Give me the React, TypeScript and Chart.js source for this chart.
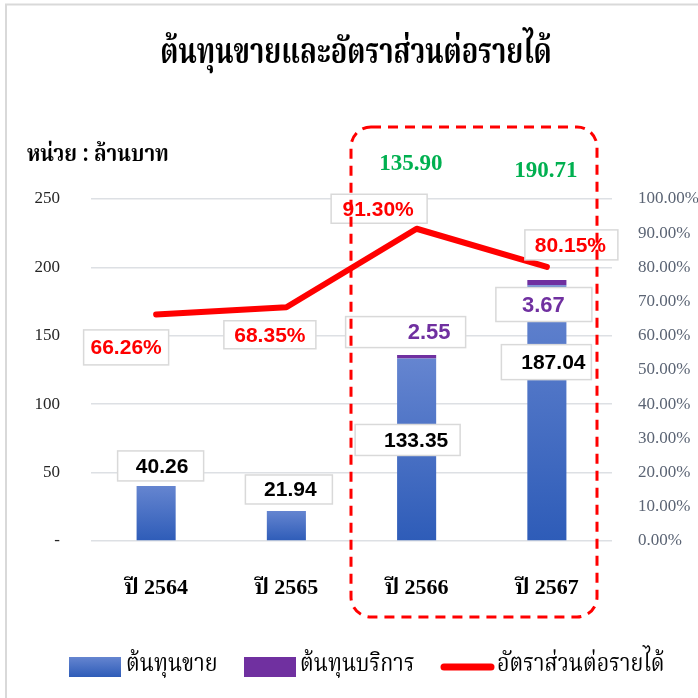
import React, { useEffect, useRef } from "react";
import { Chart, registerables } from "chart.js";

Chart.register(...registerables);

// ---- data ----
const categories = ["ปี 2564", "ปี 2565", "ปี 2566", "ปี 2567"];
const costOfSales = [40.26, 21.94, 133.35, 187.04];
const costOfServices = [0, 0, 2.55, 3.67];
const ratioToRevenue = [66.26, 68.35, 91.3, 80.15];
const totals = [null, null, 135.9, 190.71];
const seriesNames = ["ต้นทุนขาย", "ต้นทุนบริการ", "อัตราส่วนต่อรายได้"];
const titleText = "ต้นทุนขายและอัตราส่วนต่อรายได้";
const unitText = "หน่วย : ล้านบาท";

// ---- label placement (offsets from anchors, px) ----
const salesLabelPos = [
  { dx: 4.5, dy: -20, w: 86, h: 30, tdx: 6 },
  { dx: 2.5, dy: -21.5, w: 87, h: 29, tdx: 4 },
  { dx: -9, dy: 81.4, w: 105, h: 31, tdx: -0.5 },
  { dx: -0.5, dy: 77, w: 90, h: 35, tdx: 6.5 },
];
const serviceLabelPos = [
  null,
  null,
  { dx: -11, dy: -23, w: 120, h: 31, tdx: 12.5 },
  { dx: -3, dy: 24.4, w: 96, h: 34, tdx: -3.5 },
];
const ratioLabelPos = [
  { dx: -30, dy: 33, w: 85, h: 35, tdx: 0 },
  { dx: -16.5, dy: 27.5, w: 92, h: 28, tdx: 0 },
  { dx: -37.5, dy: -20, w: 96, h: 29, tdx: -1 },
  { dx: 24.5, dy: -22, w: 93, h: 30, tdx: -1 },
];
const totalLabelPos = [null, null, { dx: -5.7, dy: -34.5 }, { dx: -1, dy: -28.3 }];

const THAI = "'Noto Serif Thai', Norasi, 'Noto Sans Thai', 'TH Sarabun New', Loma, Garuda, 'Liberation Serif', serif";
const LABEL_FONT = "'Liberation Sans', Arial, sans-serif";

function drawBox(ctx: CanvasRenderingContext2D, cx: number, cy: number, w: number, h: number) {
  ctx.save();
  ctx.fillStyle = "#ffffff";
  ctx.strokeStyle = "#d9d9d9";
  ctx.lineWidth = 1.5;
  ctx.fillRect(cx - w / 2, cy - h / 2, w, h);
  ctx.strokeRect(cx - w / 2, cy - h / 2, w, h);
  ctx.restore();
}

function condensedText(
  ctx: CanvasRenderingContext2D,
  text: string,
  x: number,
  y: number,
  sx: number,
  align: CanvasTextAlign
) {
  ctx.save();
  ctx.translate(x, y);
  ctx.scale(sx, 1);
  ctx.textAlign = align;
  ctx.fillText(text, 0, 0);
  ctx.restore();
}

const decorPlugin = {
  id: "decor",
  beforeDraw(chart: any) {
    const ctx: CanvasRenderingContext2D = chart.ctx;
    ctx.save();
    ctx.fillStyle = "#ffffff";
    ctx.fillRect(0, 0, chart.width, chart.height);
    // outer frame
    ctx.strokeStyle = "#d9d9d9";
    ctx.lineWidth = 2;
    ctx.beginPath();
    ctx.moveTo(6, chart.height + 2);
    ctx.lineTo(6, 4.5);
    ctx.lineTo(chart.width + 2, 4.5);
    ctx.stroke();
    // title
    ctx.fillStyle = "#000000";
    ctx.textBaseline = "middle";
    ctx.font = `bold 35px ${THAI}`;
    condensedText(ctx, titleText, 356, 57, 0.78, "center");
    // unit
    ctx.font = `bold 23px ${THAI}`;
    condensedText(ctx, unitText, 27, 157, 0.89, "left");
    ctx.restore();
  },
  afterDatasetsDraw(chart: any) {
    const ctx: CanvasRenderingContext2D = chart.ctx;
    const salesMeta = chart.getDatasetMeta(0);
    const servMeta = chart.getDatasetMeta(1);
    const lineMeta = chart.getDatasetMeta(2);
    const yScale = chart.scales.y;
    ctx.save();
    ctx.textAlign = "center";
    ctx.textBaseline = "middle";

    // sales labels
    costOfSales.forEach((v, i) => {
      const p = salesLabelPos[i];
      const el = salesMeta.data[i];
      const ax = el.x;
      const ay = yScale.getPixelForValue(v);
      const cx = ax + p.dx;
      const cy = ay + p.dy;
      drawBox(ctx, cx, cy, p.w, p.h);
      ctx.fillStyle = "#000000";
      ctx.font = i === 3 ? `bold 21px 'Liberation Sans Narrow', ${LABEL_FONT}` : `bold 21px ${LABEL_FONT}`;
      ctx.fillText(v.toFixed(2), ax + p.tdx, cy + 1);
    });

    // service labels
    costOfServices.forEach((v, i) => {
      const p = serviceLabelPos[i];
      if (!p) return;
      const el = servMeta.data[i];
      const ax = el.x;
      const ay = yScale.getPixelForValue(costOfSales[i] + v);
      const cx = ax + p.dx;
      const cy = ay + p.dy;
      drawBox(ctx, cx, cy, p.w, p.h);
      ctx.fillStyle = "#7030A0";
      ctx.font = `bold 22px ${LABEL_FONT}`;
      ctx.fillText(v.toFixed(2), ax + p.tdx, cy + 1);
    });

    // ratio labels
    ratioToRevenue.forEach((v, i) => {
      const p = ratioLabelPos[i];
      const el = lineMeta.data[i];
      const cx = el.x + p.dx;
      const cy = el.y + p.dy;
      drawBox(ctx, cx, cy, p.w, p.h);
      ctx.fillStyle = "#FF0000";
      ctx.font = `bold 21px ${LABEL_FONT}`;
      ctx.fillText(v.toFixed(2) + "%", cx + p.tdx, cy + 1);
    });

    // totals
    totals.forEach((v, i) => {
      const p = totalLabelPos[i];
      if (v == null || !p) return;
      const el = salesMeta.data[i];
      ctx.fillStyle = "#00B050";
      ctx.font = "bold 23px 'Liberation Serif', 'Times New Roman', serif";
      ctx.fillText(v.toFixed(2), el.x + p.dx, chart.chartArea.top + p.dy);
    });
    ctx.restore();
  },
  afterDraw(chart: any) {
    const ctx: CanvasRenderingContext2D = chart.ctx;
    ctx.save();
    // legend
    const ly = 667;
    const grad = ctx.createLinearGradient(0, ly - 10, 0, ly + 10);
    grad.addColorStop(0, "#6585D0");
    grad.addColorStop(1, "#2E5CB8");
    ctx.fillStyle = grad;
    ctx.fillRect(69, ly - 10, 52, 20);
    ctx.fillStyle = "#7030A0";
    ctx.fillRect(244, ly - 10, 52, 20);
    ctx.strokeStyle = "#FF0000";
    ctx.lineWidth = 7;
    ctx.lineCap = "round";
    ctx.beginPath();
    ctx.moveTo(444, ly);
    ctx.lineTo(491, ly);
    ctx.stroke();
    ctx.fillStyle = "#000000";
    ctx.textBaseline = "middle";
    ctx.font = `25px ${THAI}`;
    condensedText(ctx, seriesNames[0], 126, ly, 0.86, "left");
    condensedText(ctx, seriesNames[1], 300, ly, 0.86, "left");
    condensedText(ctx, seriesNames[2], 497, ly, 0.86, "left");

    // dashed highlight rectangle
    ctx.setLineDash([10, 7]);
    ctx.lineWidth = 3;
    ctx.lineCap = "butt";
    ctx.strokeStyle = "#FF0000";
    const x0 = 351, y0 = 127, x1 = 597, y1 = 617, r = 20;
    ctx.beginPath();
    ctx.moveTo(x0 + r, y0);
    ctx.lineTo(x1 - r, y0);
    ctx.arcTo(x1, y0, x1, y0 + r, r);
    ctx.lineTo(x1, y1 - r);
    ctx.arcTo(x1, y1, x1 - r, y1, r);
    ctx.lineTo(x0 + r, y1);
    ctx.arcTo(x0, y1, x0, y1 - r, r);
    ctx.lineTo(x0, y0 + r);
    ctx.arcTo(x0, y0, x0 + r, y0, r);
    ctx.closePath();
    ctx.stroke();
    ctx.restore();
  },
};

export default function App() {
  const canvasRef = useRef<HTMLCanvasElement | null>(null);

  useEffect(() => {
    const canvas = canvasRef.current;
    if (!canvas) return;

    const barGradient = (ctx: any) => {
      const chart = ctx.chart;
      const y = chart.scales?.y;
      if (!y || ctx.type !== "data") return "#4472C4";
      const top = y.getPixelForValue(costOfSales[ctx.dataIndex]);
      const bottom = y.getPixelForValue(0);
      if (!isFinite(top) || !isFinite(bottom) || top === bottom) return "#4472C4";
      const g = chart.ctx.createLinearGradient(0, top, 0, bottom);
      g.addColorStop(0, "#6585D0");
      g.addColorStop(1, "#2E5CB8");
      return g;
    };

    const chart = new Chart(canvas, {
      type: "bar",
      data: {
        labels: categories,
        datasets: [
          {
            type: "bar",
            label: seriesNames[0],
            data: costOfSales,
            backgroundColor: barGradient,
            yAxisID: "y",
            stack: "cost",
            order: 1,
            barPercentage: 0.3,
            categoryPercentage: 1,
          },
          {
            type: "bar",
            label: seriesNames[1],
            data: costOfServices,
            backgroundColor: "#7030A0",
            yAxisID: "y",
            stack: "cost",
            order: 2,
            barPercentage: 0.3,
            categoryPercentage: 1,
          },
          {
            type: "line",
            label: seriesNames[2],
            data: ratioToRevenue,
            borderColor: "#FF0000",
            backgroundColor: "#FF0000",
            borderWidth: 6,
            borderCapStyle: "round",
            borderJoinStyle: "round",
            pointRadius: 0,
            tension: 0,
            yAxisID: "y1",
            order: 0,
          } as any,
        ],
      },
      options: {
        responsive: false,
        animation: false,
        layout: { padding: { top: 199, left: 0, right: 0, bottom: 0 } },
        plugins: {
          legend: { display: false },
          title: { display: false },
          tooltip: { enabled: false },
        },
        scales: {
          x: {
            stacked: true,
            grid: { display: false, drawTicks: false },
            border: { display: false },
            ticks: {
              padding: 34,
              color: "#000000",
              font: { family: `'Liberation Serif', ${THAI}`, size: 22, weight: "bold" },
            },
            afterFit: (s: any) => {
              s.height = 157;
            },
          },
          y: {
            position: "left",
            stacked: true,
            min: 0,
            max: 250,
            ticks: {
              stepSize: 50,
              padding: 31,
              color: "#262626",
              font: { family: "'Liberation Serif', 'Times New Roman', serif", size: 17 },
              callback: (v: any) => (Number(v) === 0 ? "-" : String(v)),
            },
            grid: { color: "#dde0e4", lineWidth: 1.5, drawTicks: false },
            border: { display: false },
            afterFit: (s: any) => {
              s.width = 91;
            },
          },
          y1: {
            position: "right",
            min: 0,
            max: 100,
            ticks: {
              stepSize: 10,
              padding: 26,
              color: "#5b6474",
              font: { family: "'Liberation Serif', 'Times New Roman', serif", size: 17 },
              callback: (v: any) => Number(v).toFixed(2) + "%",
            },
            grid: { display: false, drawTicks: false },
            border: { display: false },
            afterFit: (s: any) => {
              s.width = 86;
            },
          },
        },
      },
      plugins: [decorPlugin],
    });

    return () => {
      chart.destroy();
    };
  }, []);

  return (
    <div style={{ position: "absolute", left: 0, top: 0, width: 698, height: 698, background: "#fff" }}>
      <canvas ref={canvasRef} width={698} height={698} style={{ display: "block", width: 698, height: 698 }} />
    </div>
  );
}
